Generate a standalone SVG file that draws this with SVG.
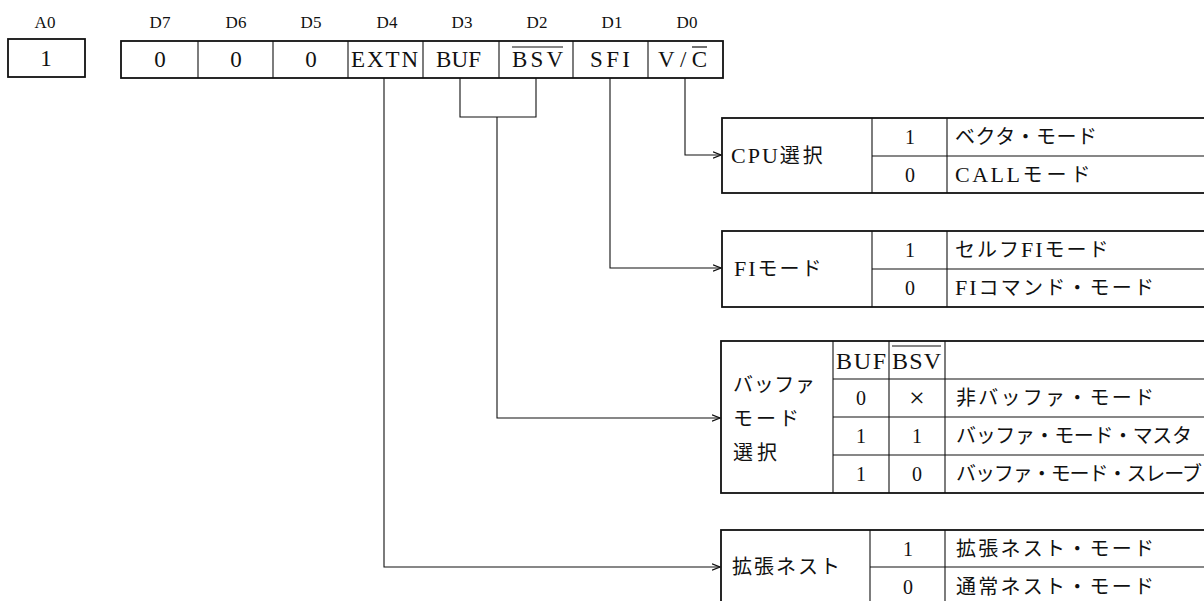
<svg xmlns="http://www.w3.org/2000/svg" width="1204" height="601" viewBox="0 0 1204 601">
<defs>
<style>
.bg{fill:#fff}
.box{fill:none;stroke:#111;stroke-width:1.8}
.div{fill:none;stroke:#111;stroke-width:1.1}
.con{fill:none;stroke:#111;stroke-width:1.1}
.lbl{font-family:"Liberation Serif","Noto Sans CJK JP",serif;font-size:17px;fill:#111;text-anchor:middle}
.reg{font-family:"Liberation Serif","Noto Sans CJK JP",serif;font-size:23px;fill:#111}
.mid{text-anchor:middle}
.t{font-family:"Liberation Serif","Noto Sans CJK JP",serif;font-size:20px;fill:#111}
.L{font-size:22px}
.h{font-size:24px}
.x{font-size:28px}
.ov{stroke:#111;stroke-width:1.2}
</style>
<marker id="arr" markerUnits="userSpaceOnUse" markerWidth="10" markerHeight="8" refX="8" refY="4" orient="auto">
<path d="M0,0.8 L8,4 L0,7.2" fill="none" stroke="#111" stroke-width="1.3"/>
</marker>
</defs>
<rect class="bg" x="0" y="0" width="1204" height="601"/>

<g id="bit-labels">
<text class="lbl" x="45" y="28">A0</text>
<text class="lbl" x="160" y="28">D7</text>
<text class="lbl" x="236" y="28">D6</text>
<text class="lbl" x="311" y="28">D5</text>
<text class="lbl" x="387" y="28">D4</text>
<text class="lbl" x="462" y="28">D3</text>
<text class="lbl" x="537" y="28">D2</text>
<text class="lbl" x="612" y="28">D1</text>
<text class="lbl" x="687" y="28">D0</text>
</g>

<g id="a0-box">
<rect class="box" x="8" y="39" width="77" height="38"/>
<text class="reg mid" x="46" y="66">1</text>
</g>

<g id="register">
<rect class="box" x="121" y="41" width="602" height="37"/>
<line class="div" x1="198" y1="41" x2="198" y2="78"/>
<line class="div" x1="273" y1="41" x2="273" y2="78"/>
<line class="div" x1="348" y1="41" x2="348" y2="78"/>
<line class="div" x1="423" y1="41" x2="423" y2="78"/>
<line class="div" x1="499" y1="41" x2="499" y2="78"/>
<line class="div" x1="573" y1="41" x2="573" y2="78"/>
<line class="div" x1="648" y1="41" x2="648" y2="78"/>
<text class="reg mid" x="160" y="67">0</text>
<text class="reg mid" x="236" y="67">0</text>
<text class="reg mid" x="311" y="67">0</text>
<text class="reg" x="351" y="67" textLength="67" lengthAdjust="spacing">EXTN</text>
<text class="reg" x="436" y="67" textLength="45" lengthAdjust="spacing">BUF</text>
<text class="reg" x="512" y="67" textLength="51" lengthAdjust="spacing">BSV</text>
<line class="ov" x1="512" y1="47" x2="563" y2="47"/>
<text class="reg" x="590" y="67" textLength="40" lengthAdjust="spacing">SFI</text>
<text class="reg" x="658" y="67" textLength="49" lengthAdjust="spacing">V/C</text>
<line class="ov" x1="692" y1="47" x2="707" y2="47"/>
</g>

<g id="connectors">
<polyline class="con" points="685,78 685,155 721,155" marker-end="url(#arr)"/>
<polyline class="con" points="610,78 610,268 721,268" marker-end="url(#arr)"/>
<polyline class="con" points="460,78 460,117 536,117 536,78"/>
<polyline class="con" points="497,117 497,418 720,418" marker-end="url(#arr)"/>
<polyline class="con" points="384,78 384,567 720,567" marker-end="url(#arr)"/>
</g>

<g id="cpu-select">
<rect class="box" x="722" y="118" width="500" height="75"/>
<line class="div" x1="872" y1="118" x2="872" y2="193"/>
<line class="div" x1="947" y1="118" x2="947" y2="193"/>
<line class="div" x1="872" y1="156" x2="1210" y2="156"/>
<text class="t" x="731" y="163"><tspan class="L" letter-spacing="2">CPU</tspan><tspan letter-spacing="3">選択</tspan></text>
<text class="t mid" x="910" y="144">1</text>
<text class="t mid" x="910" y="182">0</text>
<text class="t" x="955" y="144" textLength="142" lengthAdjust="spacing">ベクタ・モード</text>
<text class="t" x="955" y="182"><tspan class="L" letter-spacing="2.5">CALL</tspan><tspan letter-spacing="4">モード</tspan></text>
</g>

<g id="fi-mode">
<rect class="box" x="722" y="231" width="500" height="76"/>
<line class="div" x1="872" y1="231" x2="872" y2="307"/>
<line class="div" x1="947" y1="231" x2="947" y2="307"/>
<line class="div" x1="872" y1="269" x2="1210" y2="269"/>
<text class="t" x="734" y="276"><tspan class="L" letter-spacing="2">FI</tspan><tspan letter-spacing="2">モード</tspan></text>
<text class="t mid" x="910" y="257">1</text>
<text class="t mid" x="910" y="295">0</text>
<text class="t" x="955" y="257"><tspan letter-spacing="2">セルフ</tspan><tspan class="L" letter-spacing="2">FI</tspan><tspan letter-spacing="2">モード</tspan></text>
<text class="t" x="955" y="295"><tspan class="L" letter-spacing="2">FI</tspan><tspan letter-spacing="2.2">コマンド・モード</tspan></text>
</g>

<g id="buffer-mode">
<rect class="box" x="721" y="341" width="500" height="152"/>
<line class="div" x1="833" y1="341" x2="833" y2="493"/>
<line class="div" x1="889" y1="341" x2="889" y2="493"/>
<line class="div" x1="945" y1="341" x2="945" y2="493"/>
<line class="div" x1="833" y1="379" x2="1210" y2="379"/>
<line class="div" x1="833" y1="417" x2="1210" y2="417"/>
<line class="div" x1="833" y1="455" x2="1210" y2="455"/>
<text class="t" x="733" y="392" textLength="82" lengthAdjust="spacing">バッファ</text>
<text class="t" x="733" y="426" textLength="66" lengthAdjust="spacing">モード</text>
<text class="t" x="733" y="460" textLength="44" lengthAdjust="spacing">選択</text>
<text class="t h" x="836" y="369" textLength="50" lengthAdjust="spacing">BUF</text>
<text class="t h" x="892" y="369" textLength="49" lengthAdjust="spacing">BSV</text>
<line class="ov" x1="892" y1="346" x2="941" y2="346"/>
<text class="t mid" x="861" y="405">0</text>
<text class="t mid x" x="917" y="407">×</text>
<text class="t mid" x="861" y="443">1</text>
<text class="t mid" x="917" y="443">1</text>
<text class="t mid" x="861" y="481">1</text>
<text class="t mid" x="917" y="481">0</text>
<text class="t" x="956" y="405" textLength="198" lengthAdjust="spacing">非バッファ・モード</text>
<text class="t" x="956" y="443" textLength="236" lengthAdjust="spacing">バッファ・モード・マスタ</text>
<text class="t" x="956" y="481" textLength="246" lengthAdjust="spacing">バッファ・モード・スレーブ</text>
</g>

<g id="extended-nest">
<rect class="box" x="721" y="530" width="500" height="80"/>
<line class="div" x1="870" y1="530" x2="870" y2="610"/>
<line class="div" x1="945" y1="530" x2="945" y2="610"/>
<line class="div" x1="870" y1="567" x2="1210" y2="567"/>
<text class="t" x="732" y="574" textLength="108" lengthAdjust="spacing">拡張ネスト</text>
<text class="t mid" x="908" y="556">1</text>
<text class="t mid" x="908" y="594">0</text>
<text class="t" x="956" y="556" textLength="198" lengthAdjust="spacing">拡張ネスト・モード</text>
<text class="t" x="956" y="594" textLength="198" lengthAdjust="spacing">通常ネスト・モード</text>
</g>
</svg>
